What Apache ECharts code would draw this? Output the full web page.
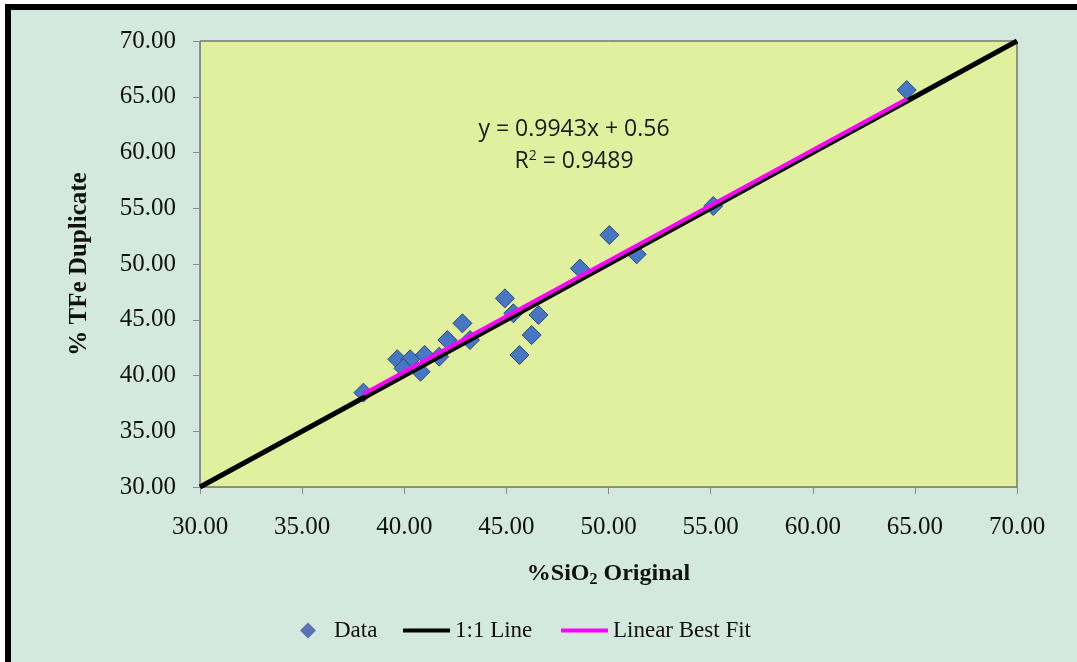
<!DOCTYPE html>
<html>
<head>
<meta charset="utf-8">
<script src="https://cdn.jsdelivr.net/npm/echarts@6/dist/echarts.min.js"></script>
<style>
html,body{margin:0;padding:0;background:#ffffff;}
#chart{width:1077px;height:662px;}
</style>
</head>
<body>
<div id="chart"></div>
<script>
// Data
const sio2Original = [38.0, 39.66, 40.29, 39.96, 41.0, 40.8, 41.71, 42.11, 42.85, 43.22, 44.93, 45.34, 46.57, 46.24, 45.64, 48.6, 50.04, 51.38, 55.13, 64.6];
const tfeDuplicate = [38.46, 41.45, 41.45, 40.65, 41.84, 40.34, 41.69, 43.18, 44.68, 43.18, 46.92, 45.58, 45.43, 43.63, 41.84, 49.6, 52.6, 50.87, 55.2, 65.6];
const oneToOneX = [30, 70];
const oneToOneY = [30, 70];
const fitX = [38.0, 64.6];
const fitY = [38.34, 64.79];
const axisTicks = [30, 35, 40, 45, 50, 55, 60, 65, 70];
const equationLines = ['y = 0.9943x + 0.56', 'R{sup|2} = 0.9489'];
const seriesNames = ['Data', '1:1 Line', 'Linear Best Fit'];

const chart = echarts.init(document.getElementById('chart'), null, {renderer: 'canvas'});

const serif = 'Liberation Serif';
const fmt = v => Number(v).toFixed(2);

const option = {
  backgroundColor: '#d3e9dd',
  animation: false,
  grid: {
    left: 200, right: 60, top: 41, bottom: 175,
    show: true,
    backgroundColor: '#e0f09e',
    borderColor: '#404040',
    borderWidth: 1
  },
  xAxis: {
    type: 'value',
    min: axisTicks[0], max: axisTicks[axisTicks.length - 1], interval: 5,
    splitLine: {show: false},
    axisLine: {show: true, onZero: false, lineStyle: {color: '#8a8a8a', width: 1}},
    axisTick: {show: true, inside: false, length: 7, lineStyle: {color: '#8a8a8a'}},
    axisLabel: {formatter: fmt, fontFamily: serif, fontSize: 25, color: '#111', margin: 28},
    name: '{a|%SiO}{s|2}{a| Original}',
    nameLocation: 'middle',
    nameGap: 72,
    nameTextStyle: {
      rich: {
        a: {fontFamily: serif, fontSize: 24, fontWeight: 'bold', color: '#111', lineHeight: 30},
        s: {fontFamily: serif, fontSize: 16, fontWeight: 'bold', color: '#111', lineHeight: 30, padding: [12, 0, 0, 0]}
      }
    }
  },
  yAxis: {
    type: 'value',
    min: axisTicks[0], max: axisTicks[axisTicks.length - 1], interval: 5,
    splitLine: {show: false},
    axisLine: {show: true, onZero: false, lineStyle: {color: '#8a8a8a', width: 1}},
    axisTick: {show: true, inside: false, length: 7, lineStyle: {color: '#8a8a8a'}},
    axisLabel: {formatter: fmt, fontFamily: serif, fontSize: 25, color: '#111', margin: 24},
    name: '% TFe Duplicate',
    nameLocation: 'middle',
    nameGap: 108,
    nameTextStyle: {fontFamily: serif, fontSize: 25, fontWeight: 'bold', color: '#111'}
  },
  legend: [
    {
      data: [seriesNames[0]], left: 295, top: 614, icon: 'diamond',
      itemWidth: 16, itemHeight: 16,
      itemStyle: {color: '#5a72b8', borderWidth: 0},
      textStyle: {fontFamily: serif, fontSize: 23, color: '#111', padding: [0, 0, 0, 13]}
    },
    {
      data: [seriesNames[1]], left: 398, top: 614, icon: 'rect',
      itemWidth: 47, itemHeight: 4,
      textStyle: {fontFamily: serif, fontSize: 23, color: '#111'}
    },
    {
      data: [seriesNames[2]], left: 556, top: 614, icon: 'rect',
      itemWidth: 47, itemHeight: 4,
      textStyle: {fontFamily: serif, fontSize: 23, color: '#111'}
    }
  ],
  series: [
    {
      name: seriesNames[0],
      type: 'scatter',
      symbol: 'diamond',
      symbolSize: 19,
      z: 2,
      itemStyle: {color: '#4577c4', borderColor: '#2c4a78', borderWidth: 1, opacity: 1},
      data: sio2Original.map((x, i) => [x, tfeDuplicate[i]])
    },
    {
      name: seriesNames[1],
      type: 'line',
      showSymbol: false,
      symbol: 'none',
      z: 3,
      lineStyle: {color: '#000000', width: 5},
      itemStyle: {color: '#000000'},
      data: oneToOneX.map((x, i) => [x, oneToOneY[i]])
    },
    {
      name: seriesNames[2],
      type: 'line',
      showSymbol: false,
      symbol: 'none',
      z: 4,
      lineStyle: {color: '#ff00ff', width: 4},
      itemStyle: {color: '#ff00ff'},
      data: fitX.map((x, i) => [x, fitY[i]])
    }
  ],
  graphic: [
    {type: 'rect', left: 0, top: 0, z: 100, shape: {width: 1077, height: 4}, style: {fill: '#ffffff'}},
    {type: 'rect', left: 0, top: 0, z: 100, shape: {width: 5, height: 662}, style: {fill: '#ffffff'}},
    {type: 'rect', left: 5, top: 4, z: 101, shape: {width: 1072, height: 6}, style: {fill: '#000000'}},
    {type: 'rect', left: 5, top: 4, z: 101, shape: {width: 6, height: 658}, style: {fill: '#000000'}},
    {
      type: 'text', z: 50,
      x: 574, y: 113,
      style: {
        text: equationLines.join('\n'),
        align: 'center',
        verticalAlign: 'top',
        fontFamily: 'Open Sans',
        fontSize: 23,
        lineHeight: 32,
        fill: '#1a1a1a',
        rich: {
          sup: {fontFamily: 'Open Sans', fontSize: 14, fill: '#1a1a1a', padding: [0, 0, 10, 0], lineHeight: 32}
        }
      }
    }
  ]
};

chart.setOption(option);
</script>
</body>
</html>
